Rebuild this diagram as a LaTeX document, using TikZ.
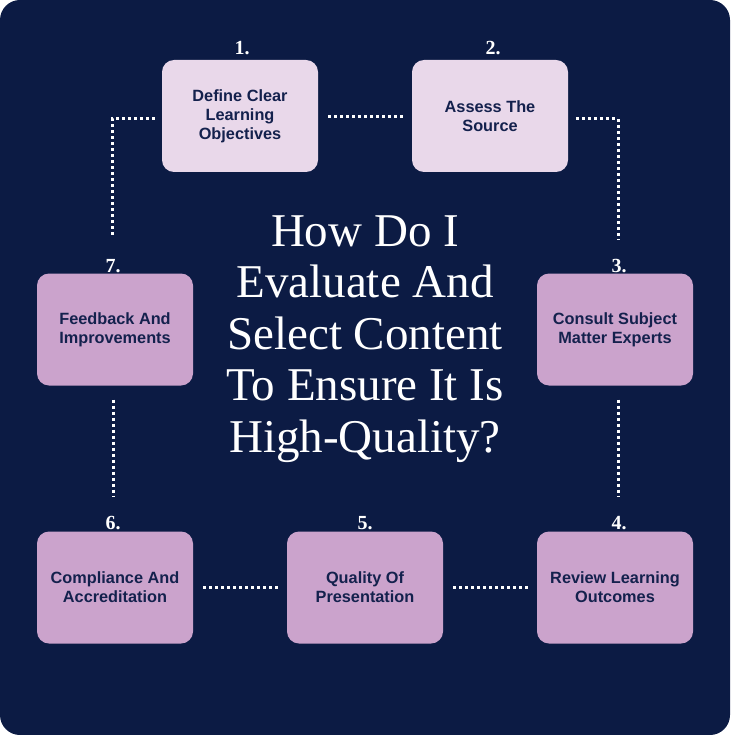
\documentclass[tikz,border=0pt]{standalone}
\usepackage{fontspec}
\setmainfont{Liberation Serif}
\newfontfamily\boxfont{Liberation Sans}
\definecolor{navy}{HTML}{0C1B44}
\definecolor{lightbox}{HTML}{E9D8EA}
\definecolor{midbox}{HTML}{CBA3CC}
\definecolor{boxtext}{HTML}{14214D}
\tikzset{
  stepbox/.style={draw=none, rounded corners=12pt, minimum width=156pt, minimum height=112pt,
    align=center, text=boxtext, font=\boxfont\bfseries\fontsize{16.3}{19}\selectfont, inner sep=0pt},
  toprow/.style={stepbox, fill=lightbox},
  lowrow/.style={stepbox, fill=midbox},
  numlabel/.style={text=white, font=\bfseries\fontsize{20}{20}\selectfont, anchor=base},
  dotline/.style={draw=white, line width=3pt, dash pattern=on 3pt off 3pt},
}
\begin{document}
\begin{tikzpicture}[x=1pt, y=-1pt]
\useasboundingbox (0,0) rectangle (730,735);
\fill[white] (0,0) rectangle (730,735);
\fill[navy, rounded corners=20pt] (0,0) rectangle (730,735);

\node[toprow] (b1) at (240,116) {Define Clear\\Learning\\Objectives};
\node[toprow] (b2) at (490,116) {Assess The\\Source};
\node[lowrow] (b3) at (615,329.5) {Consult Subject\\Matter Experts};
\node[lowrow] (b4) at (615,587.5) {Review Learning\\Outcomes};
\node[lowrow] (b5) at (365,587.5) {Quality Of\\Presentation};
\node[lowrow] (b6) at (115,587.5) {Compliance And\\Accreditation};
\node[lowrow] (b7) at (115,329.5) {Feedback And\\Improvements};

\node[numlabel] (n1) at (242,55) {1.};
\node[numlabel] (n2) at (493,55) {2.};
\node[numlabel] (n3) at (619,272) {3.};
\node[numlabel] (n4) at (619,529) {4.};
\node[numlabel] (n5) at (365,529) {5.};
\node[numlabel] (n6) at (113,529) {6.};
\node[numlabel] (n7) at (113,272) {7.};

\node[text=white, align=center, font=\fontsize{47}{51.5}\selectfont] (title) at (365,339)
  {How Do I\\Evaluate And\\Select Content\\To Ensure It Is\\High-Quality?};

\draw[dotline] ([xshift=10pt,yshift=-1pt]b1.east) -- ([xshift=-9pt,yshift=-1pt]b2.west);
\draw[dotline] ([xshift=-7pt,yshift=-3pt]b1.west) -| ([xshift=-3pt,yshift=38pt]b7.north);
\draw[dotline] ([xshift=8pt,yshift=-3pt]b2.east) -| ([xshift=3pt,yshift=33pt]b3.north);
\draw[dotline] ([xshift=3pt,yshift=-14pt]b3.south) -- ([xshift=3pt,yshift=34pt]b4.north);
\draw[dotline] ([xshift=-2pt,yshift=-14pt]b7.south) -- ([xshift=-2pt,yshift=34pt]b6.north);
\draw[dotline] ([xshift=10pt]b6.east) -- ([xshift=-9pt]b5.west);
\draw[dotline] ([xshift=10pt]b5.east) -- ([xshift=-9pt]b4.west);
\end{tikzpicture}
\end{document}
